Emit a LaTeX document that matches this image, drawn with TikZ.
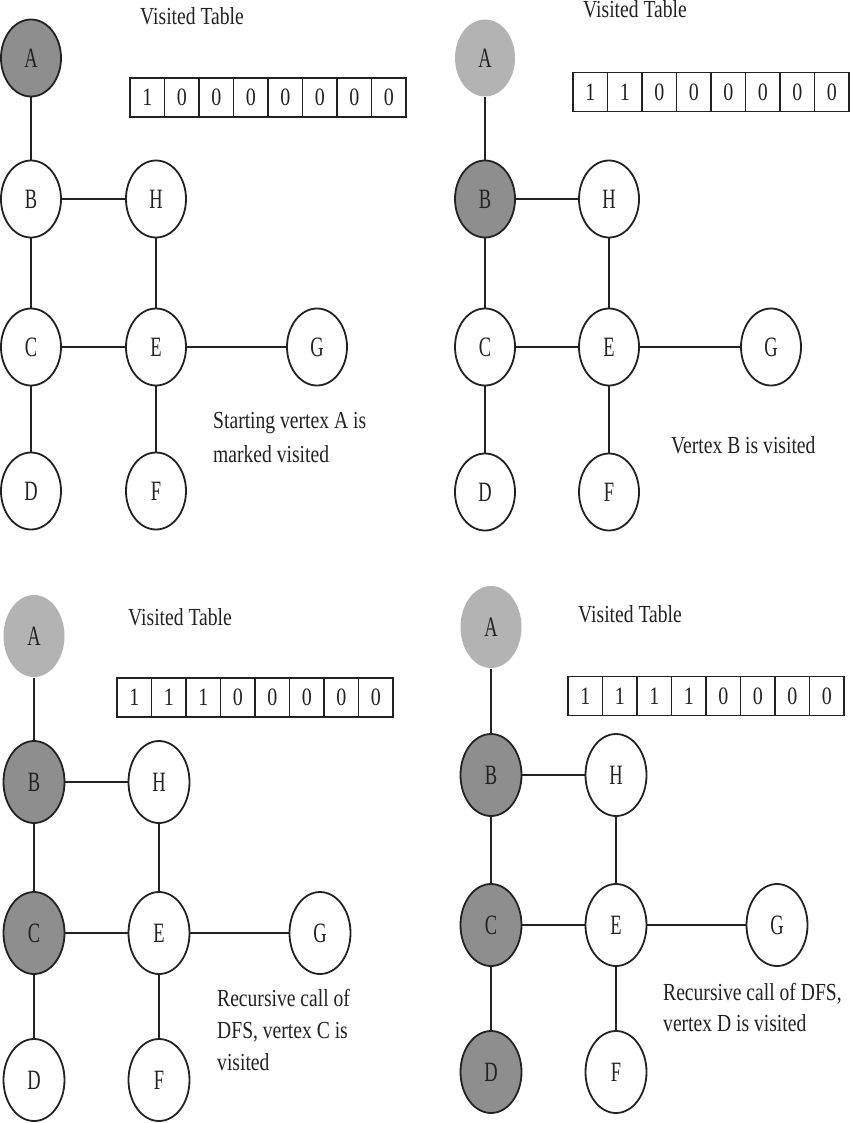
\documentclass[tikz,border=0pt]{standalone}
\usepackage{fontspec}
\setmainfont{Liberation Serif}[FakeStretch=0.8]
\newfontfamily\nodefont{Liberation Serif}[FakeStretch=0.66]
\usetikzlibrary{shapes.geometric}
\definecolor{curgray}{HTML}{8E8E8E}
\definecolor{oldgray}{HTML}{B3B3B3}
\definecolor{ink}{HTML}{222222}
\begin{document}
\begin{tikzpicture}[x=1pt,y=-1pt,
  vtx/.style={ellipse, draw=ink, line width=1.8pt, fill=white,
    minimum width=60pt, minimum height=77pt, inner sep=0pt,
    font=\nodefont\fontsize{28}{28}\selectfont, text=ink},
  big/.style={minimum width=61pt, minimum height=82pt},
  cur/.style={vtx, fill=curgray},
  old/.style={vtx, draw=none, fill=oldgray},
  edge/.style={line width=1.6pt, draw=ink},
  heavy/.style={line width=2.4pt, draw=ink},
  thin/.style={line width=1.3pt, draw=ink},
  cell/.style={rectangle, draw=ink, line width=1.4pt, minimum width=34.5pt,
    minimum height=39pt, inner sep=0pt, font=\fontsize{25}{25}\selectfont, text=ink},
  lbl/.style={anchor=base west, inner sep=0pt, font=\fontsize{24.5}{24.5}\selectfont, text=ink}]
\useasboundingbox (0,0) rectangle (849,1123);
\fill[white] (0,0) rectangle (849,1123);

% ---------- Panel 1 ----------
\node[cur] (a1) at (31,58) {A};
\node[vtx] (b1) at (31,199) {B};
\node[vtx] (h1) at (156,199) {H};
\node[vtx] (c1) at (31,347) {C};
\node[vtx] (e1) at (156,347) {E};
\node[vtx] (g1) at (317,347) {G};
\node[vtx] (d1) at (31,491) {D};
\node[vtx] (f1) at (156,491) {F};
\node[lbl] (vt1) at (140,25) {Visited Table};
\foreach \v [count=\i] in {1,0,0,0,0,0,0,0}
  \node[cell] (ta\i) at ({130+34.5*(\i-0.5)},97.5) {\v};
\node[lbl] (s1a) at (213,428) {Starting vertex A is};
\node[lbl] (s1b) at (213,462) {marked visited};

% ---------- Panel 2 ----------
\node[old] (a2) at (485,58) {A};
\node[cur] (b2) at (485,199) {B};
\node[vtx] (h2) at (609,199) {H};
\node[vtx] (c2) at (485,347) {C};
\node[vtx] (e2) at (609,347) {E};
\node[vtx] (g2) at (771,347) {G};
\node[vtx] (d2) at (485,492) {D};
\node[vtx] (f2) at (609,492) {F};
\node[lbl] (vt2) at (583,18) {Visited Table};
\foreach \v [count=\i] in {1,1,0,0,0,0,0,0}
  \node[cell] (tb\i) at ({573+34.5*(\i-0.5)},92) {\v};
\node[lbl] (s2a) at (671,453) {Vertex B is visited};

% ---------- Panel 3 ----------
\node[old,big] (a3) at (34,636) {A};
\node[cur,big] (b3) at (34,782) {B};
\node[vtx,big] (h3) at (159,782) {H};
\node[cur,big] (c3) at (34,933) {C};
\node[vtx,big] (e3) at (159,933) {E};
\node[vtx,big] (g3) at (320,933) {G};
\node[vtx,big] (d3) at (34,1080) {D};
\node[vtx,big] (f3) at (159,1080) {F};
\node[lbl] (vt3) at (128,625) {Visited Table};
\foreach \v [count=\i] in {1,1,1,0,0,0,0,0}
  \node[cell] (tc\i) at ({117+34.5*(\i-0.5)},697.5) {\v};
\node[lbl] (s3a) at (217,1006) {Recursive call of};
\node[lbl] (s3b) at (217,1038) {DFS, vertex C is};
\node[lbl] (s3c) at (217,1070) {visited};

% ---------- Panel 4 ----------
\node[old,big] (a4) at (491,627) {A};
\node[cur,big] (b4) at (491,775) {B};
\node[vtx,big] (h4) at (616,775) {H};
\node[cur,big] (c4) at (491,925) {C};
\node[vtx,big] (e4) at (616,925) {E};
\node[vtx,big] (g4) at (777,925) {G};
\node[cur,big] (d4) at (491,1072) {D};
\node[vtx,big] (f4) at (616,1072) {F};
\node[lbl] (vt4) at (578,622) {Visited Table};
\foreach \v [count=\i] in {1,1,1,1,0,0,0,0}
  \node[cell] (td\i) at ({568+34.5*(\i-0.5)},696) {\v};
\node[lbl] (s4a) at (663,1000) {Recursive call of DFS,};
\node[lbl] (s4b) at (663,1031) {vertex D is visited};

% ---------- Edges ----------
\foreach \k in {1,2,3,4}{
  \draw[thin] (a\k) -- (b\k);
  \draw[heavy] (b\k) -- (h\k);
  \draw[edge] (b\k) -- (c\k);
  \draw[edge] (h\k) -- (e\k);
  \draw[heavy] (c\k) -- (e\k);
  \draw[edge] (e\k) -- (g\k);
  \draw[edge] (c\k) -- (d\k);
  \draw[edge] (e\k) -- (f\k);
}
\end{tikzpicture}
\end{document}
